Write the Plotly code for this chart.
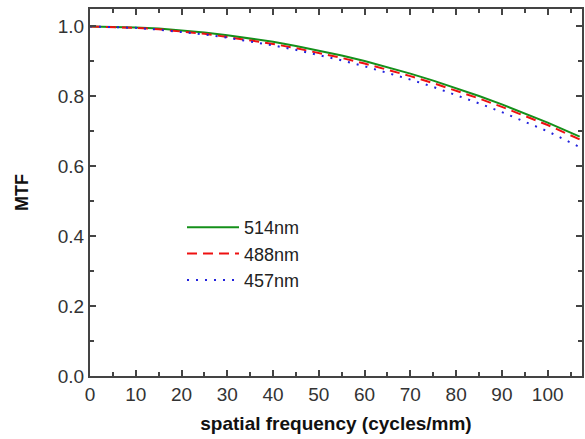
import plotly.graph_objects as go

freq = [0, 5, 10, 15, 20, 25, 30, 35, 40, 45, 50, 55, 60, 65, 70, 75, 80, 85, 90, 95, 100, 107]
mtf_514 = [1.000, 0.999, 0.997, 0.994, 0.989, 0.983, 0.975, 0.966, 0.956, 0.944, 0.931, 0.917, 0.901, 0.884, 0.865, 0.845, 0.824, 0.801, 0.777, 0.752, 0.725, 0.685]
mtf_488 = [1.000, 0.999, 0.996, 0.992, 0.986, 0.979, 0.970, 0.961, 0.950, 0.938, 0.925, 0.910, 0.894, 0.877, 0.858, 0.838, 0.817, 0.794, 0.770, 0.745, 0.718, 0.677]
mtf_457 = [1.000, 0.999, 0.996, 0.991, 0.985, 0.977, 0.968, 0.958, 0.946, 0.933, 0.919, 0.903, 0.886, 0.868, 0.848, 0.827, 0.804, 0.780, 0.755, 0.728, 0.700, 0.655]
names = ["514nm", "488nm", "457nm"]

fig = go.Figure()
fig.add_trace(go.Scatter(x=freq, y=mtf_514, mode="lines", name=names[0],
                         line=dict(color="#14901a", width=2, dash="solid")))
fig.add_trace(go.Scatter(x=freq, y=mtf_488, mode="lines", name=names[1],
                         line=dict(color="#ee1111", width=2, dash="10px,6px")))
fig.add_trace(go.Scatter(x=freq, y=mtf_457, mode="lines", name=names[2],
                         line=dict(color="#2222dd", width=2, dash="2px,7px")))

FONT = "Liberation Sans, Arial"
axis_common = dict(showline=True, linecolor="#444", linewidth=2, mirror="ticks",
                   ticks="inside", ticklen=6, tickwidth=1.5, tickcolor="#444",
                   showgrid=False, zeroline=False,
                   tickfont=dict(family=FONT, size=19, color="#333"))

fig.update_xaxes(range=[0, 107.5], dtick=10, tick0=0,
                 minor=dict(ticks="inside", ticklen=4, dtick=5, tickcolor="#444", tickwidth=1.5),
                 title=dict(text="<b>spatial frequency (cycles/mm)</b>", standoff=13,
                            font=dict(family=FONT, size=19, color="#111")),
                 **axis_common)
fig.update_yaxes(range=[0, 1.05], dtick=0.2, tick0=0, tickformat=".1f",
                 minor=dict(ticks="inside", ticklen=4, dtick=0.1, tickcolor="#444", tickwidth=1.5),
                 title=dict(text="<b>MTF</b>", standoff=24,
                            font=dict(family=FONT, size=18, color="#111")),
                 **axis_common)

fig.update_layout(
    width=585, height=439,
    margin=dict(l=90, r=1, t=9, b=63),
    paper_bgcolor="white", plot_bgcolor="white",
    legend=dict(x=0.187, y=0.455, xanchor="left", yanchor="top",
                bgcolor="rgba(0,0,0,0)", itemwidth=52,
                font=dict(family=FONT, size=18, color="#222")),
)

fig.write_html("out.html", config={"displayModeBar": False},
               post_script="document.body.style.margin='0';document.body.style.overflow='hidden';")
